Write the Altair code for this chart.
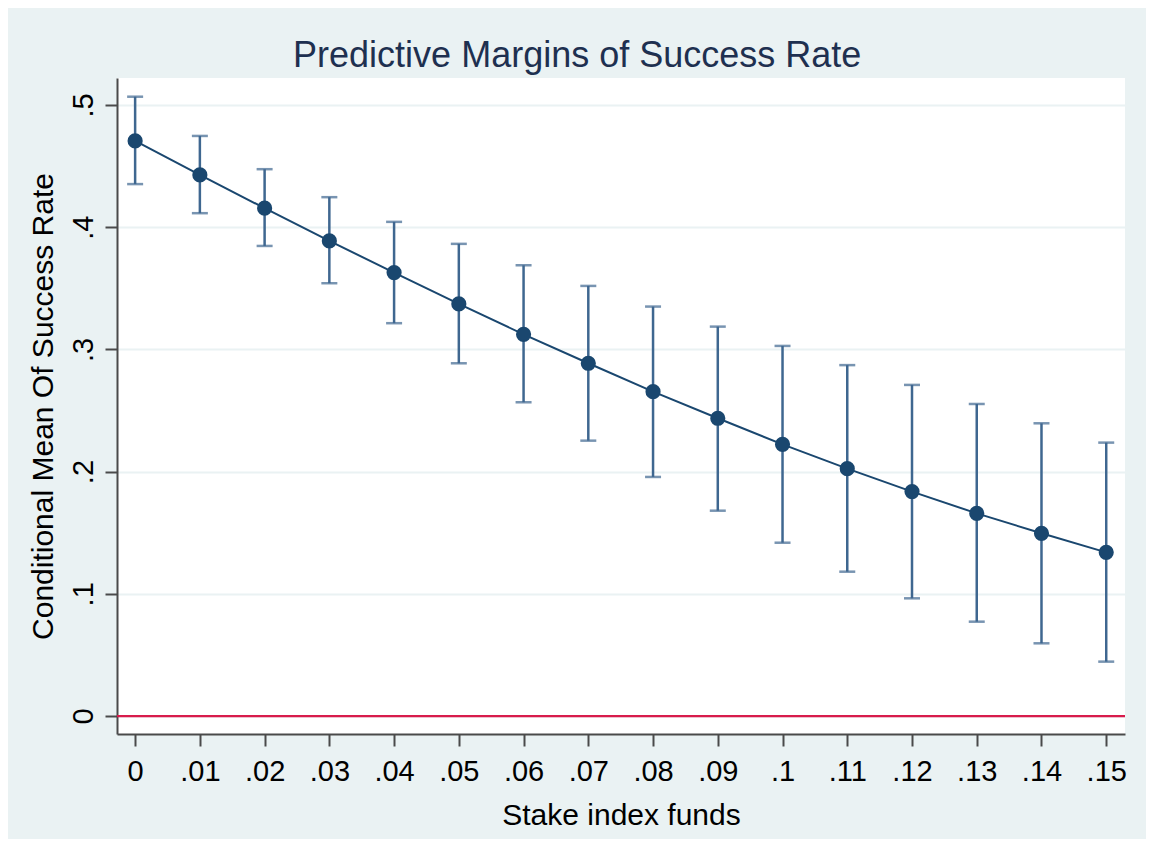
import altair as alt
import pandas as pd

# Data
stake = [0.00, 0.01, 0.02, 0.03, 0.04, 0.05, 0.06, 0.07, 0.08, 0.09, 0.10, 0.11, 0.12, 0.13, 0.14, 0.15]
margin = [0.4705, 0.4427, 0.4155, 0.3887, 0.3628, 0.3372, 0.3123, 0.2886, 0.2654, 0.2436, 0.2223, 0.2024, 0.1836, 0.1658, 0.1495, 0.1339]
lower = [0.4352, 0.4114, 0.3846, 0.3541, 0.3214, 0.2886, 0.2567, 0.2253, 0.1956, 0.1680, 0.1418, 0.1181, 0.0963, 0.0772, 0.0595, 0.0445]
upper = [0.5067, 0.4746, 0.4474, 0.4245, 0.4043, 0.3863, 0.3688, 0.3519, 0.3350, 0.3186, 0.3028, 0.2871, 0.2709, 0.2553, 0.2395, 0.2237]
x_ticks = stake
y_ticks = [0.0, 0.1, 0.2, 0.3, 0.4, 0.5]

df = pd.DataFrame({"stake": stake, "margin": margin, "lower": lower, "upper": upper})

FONT = "Liberation Sans"
NAVY = "#1a476f"
BAR = "#3f6790"

x_scale = alt.Scale(domain=[-0.0028, 0.1529], nice=False, zero=False)
y_scale = alt.Scale(domain=[-0.0147, 0.522], nice=False, zero=False)

x_axis = alt.Axis(
    values=x_ticks,
    labelExpr="datum.value == 0 ? '0' : substring(format(datum.value, '.2~f'), 1)",
    title="Stake index funds",
    grid=False,
    tickSize=12, tickWidth=2, tickColor="#4a4a4a",
    domainColor="#4a4a4a", domainWidth=2,
    labelFont=FONT, labelFontSize=29, labelColor="#000000", labelPadding=11,
    titleFont=FONT, titleFontSize=30, titleFontWeight="normal", titleColor="#000000",
    titlePadding=14,
)
y_axis = alt.Axis(
    values=y_ticks,
    labelExpr="datum.value == 0 ? '0' : substring(format(datum.value, '.1~f'), 1)",
    title="Conditional Mean Of Success Rate",
    grid=True, gridColor="#eaf2f3", gridWidth=2,
    tickSize=12, tickWidth=2, tickColor="#4a4a4a",
    domainColor="#4a4a4a", domainWidth=2,
    labelAngle=-90, labelAlign="center", labelBaseline="bottom",
    labelFont=FONT, labelFontSize=29, labelColor="#000000", labelPadding=7,
    titleFont=FONT, titleFontSize=30, titleFontWeight="normal", titleColor="#000000",
    titlePadding=11,
)

base = alt.Chart(df)

zero_line = alt.Chart(pd.DataFrame({"y": [0.0]})).mark_rule(color="#d81b4b", strokeWidth=2.2).encode(
    y=alt.Y("y:Q", scale=y_scale, axis=y_axis)
)

bars = base.mark_rule(color=BAR, strokeWidth=2.5).encode(
    x=alt.X("stake:Q", scale=x_scale, axis=x_axis),
    y=alt.Y("lower:Q", scale=y_scale, axis=y_axis),
    y2="upper:Q",
)
caps_lo = base.mark_tick(color=BAR, thickness=2.5, size=16, orient="horizontal").encode(
    x=alt.X("stake:Q", scale=x_scale),
    y=alt.Y("lower:Q", scale=y_scale),
)
caps_hi = base.mark_tick(color=BAR, thickness=2.5, size=16, orient="horizontal").encode(
    x=alt.X("stake:Q", scale=x_scale),
    y=alt.Y("upper:Q", scale=y_scale),
)
line = base.mark_line(color=NAVY, strokeWidth=2).encode(
    x=alt.X("stake:Q", scale=x_scale),
    y=alt.Y("margin:Q", scale=y_scale),
)
points = base.mark_circle(color=NAVY, size=230, opacity=1).encode(
    x=alt.X("stake:Q", scale=x_scale),
    y=alt.Y("margin:Q", scale=y_scale),
)

chart = alt.layer(zero_line, bars, caps_lo, caps_hi, line, points).properties(
    width=1008,
    height=656,
    autosize=alt.AutoSizeParams(type="none"),
    padding={"left": 109, "top": 70, "right": 21, "bottom": 105},
    background="#eaf2f3",
    title=alt.TitleParams(
        text="Predictive Margins of Success Rate",
        font=FONT, fontSize=36, fontWeight="normal", color="#1e3050",
        anchor="middle", offset=3, frame="bounds",
    ),
).configure_view(fill="white", stroke=None)

chart.save("out.html", embed_options={"renderer": "svg", "actions": False})
